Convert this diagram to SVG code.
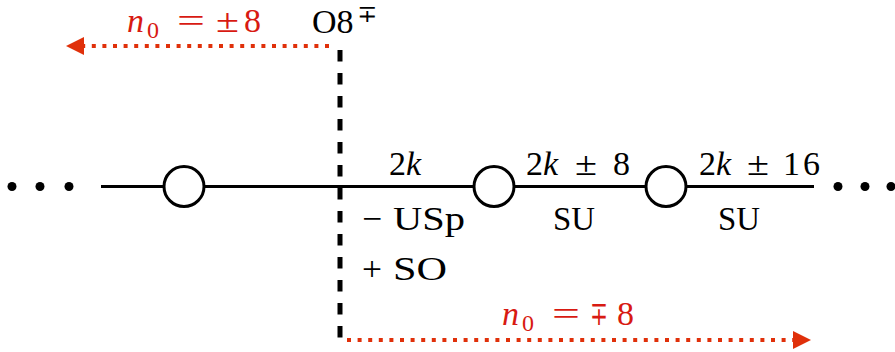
<svg xmlns="http://www.w3.org/2000/svg" width="895" height="352" viewBox="0 0 895 352">
<style>
.t{font-family:"Liberation Serif","DejaVu Serif",serif;font-size:34px;fill:#000}
.r{fill:#d81a12}
.i{font-style:italic}
.s{font-size:24px}
.ln{stroke:#000;stroke-width:3;fill:none}
.nd{stroke:#000;stroke-width:3;fill:#fff}
.dash{stroke:#000;stroke-width:5;stroke-dasharray:11.5 11.5;fill:none}
.dot{stroke:#e0300a;stroke-width:4;stroke-dasharray:4 6.6;fill:none}
</style>
<defs>
<marker id="ah" viewBox="0 0 10 10" refX="10" refY="5" markerWidth="18" markerHeight="18" markerUnits="userSpaceOnUse" orient="auto">
<path d="M0,0 L10,5 L0,10 Z" fill="#e0300a"/>
</marker>
</defs>
<g id="connectors">
<line class="ln" x1="101" y1="186.5" x2="814" y2="186.5"/>
<line class="dash" x1="340" y1="50" x2="340" y2="344"/>
<line class="dot" x1="329" y1="46" x2="66" y2="46" marker-end="url(#ah)"/>
<line class="dot" x1="347" y1="340" x2="811" y2="340" marker-end="url(#ah)"/>
</g>
<g id="dots-left"><circle cx="12" cy="186.5" r="4.5"/><circle cx="40" cy="186.5" r="4.5"/><circle cx="69" cy="186.5" r="4.5"/></g>
<g id="dots-right"><circle cx="838" cy="186.5" r="4.5"/><circle cx="865" cy="186.5" r="4.5"/><circle cx="891" cy="186.5" r="4.5"/></g>
<g id="node1"><circle class="nd" cx="184" cy="186.5" r="20"/></g>
<g id="node2"><circle class="nd" cx="494" cy="186.5" r="20"/></g>
<g id="node3"><circle class="nd" cx="666" cy="186.5" r="20"/></g>
<g id="labels">
<text class="t r"><tspan class="i" x="127" y="32">n</tspan><tspan class="s" x="147" y="38">0</tspan><tspan x="177" y="32" textLength="28" lengthAdjust="spacingAndGlyphs">=</tspan><tspan x="216" y="32" textLength="23" lengthAdjust="spacingAndGlyphs">±</tspan><tspan x="244" y="32">8</tspan></text>
<text class="t"><tspan x="312" y="33">O8</tspan><tspan class="s" x="357" y="22">∓</tspan></text>
<text class="t"><tspan x="389" y="175">2</tspan><tspan class="i" x="406" y="175">k</tspan></text>
<text class="t"><tspan x="526" y="175">2</tspan><tspan class="i" x="543" y="175">k</tspan><tspan x="575" y="175" textLength="22" lengthAdjust="spacingAndGlyphs">±</tspan><tspan x="613" y="175">8</tspan></text>
<text class="t"><tspan x="699" y="175">2</tspan><tspan class="i" x="716" y="175">k</tspan><tspan x="747" y="175" textLength="22" lengthAdjust="spacingAndGlyphs">±</tspan><tspan x="783" y="175" textLength="37" lengthAdjust="spacing">16</tspan></text>
<text class="t"><tspan x="362" y="230" textLength="20" lengthAdjust="spacingAndGlyphs">−</tspan><tspan x="393" y="230" textLength="72" lengthAdjust="spacingAndGlyphs">USp</tspan></text>
<text class="t"><tspan x="362" y="280" textLength="20" lengthAdjust="spacingAndGlyphs">+</tspan><tspan x="393" y="280" textLength="54" lengthAdjust="spacingAndGlyphs">SO</tspan></text>
<text class="t" x="553" y="230" textLength="42" lengthAdjust="spacingAndGlyphs">SU</text>
<text class="t" x="718" y="230" textLength="42" lengthAdjust="spacingAndGlyphs">SU</text>
<text class="t r"><tspan class="i" x="502" y="325">n</tspan><tspan class="s" x="522" y="331">0</tspan><tspan x="552" y="325" textLength="28" lengthAdjust="spacingAndGlyphs">=</tspan><tspan x="590" y="325" textLength="18" lengthAdjust="spacingAndGlyphs">∓</tspan><tspan x="617" y="325">8</tspan></text>
</g>
</svg>
